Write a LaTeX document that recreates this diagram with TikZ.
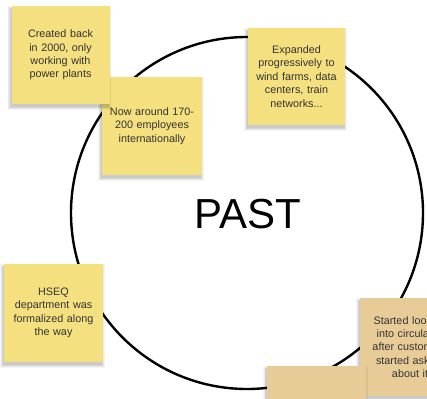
\documentclass[tikz,border=0pt]{standalone}
\usepackage{fontspec}
\setmainfont{Liberation Sans}
\definecolor{stickyyellow}{HTML}{F4E07F}
\definecolor{stickytan}{HTML}{E8CC97}
\definecolor{inkgray}{HTML}{333333}

% soft shadow under a sticky note: centre x, centre y, width, height
\newcommand\softshadow[4]{%
  \foreach \s in {0,1,2,3,4}{%
    \fill[black,opacity=0.045]
      ({#1-#3/2-1-\s*0.7},{#2-#4/2+3-\s*0.7}) rectangle
      ({#1+#3/2-1+\s*0.7},{#2+#4/2+3+\s*0.7});
  }%
}

\begin{document}
\begin{tikzpicture}[x=1pt,y=-1pt,
  sticky/.style={fill=#1, inner sep=0pt, align=center, text=inkgray,
    font=\fontsize{10.8}{13.4}\selectfont, text width=94pt},
  ring/.style={circle, draw=black, line width=2.4pt, inner sep=0pt},
]
\useasboundingbox (0,0) rectangle (427,398);
\clip (0,0) rectangle (427,398);
\fill[white] (0,0) rectangle (427,398);

% the timeline ring and its title
\node[ring, minimum size=352pt] (ring) at (247,213) {};
\node[font=\fontsize{42}{50}\selectfont, text=black] (past) at (248,214) {PAST};

% sticky notes
\softshadow{152}{126}{100}{98}
\node[sticky=stickyyellow, minimum width=100pt, minimum height=98pt] (staff) at (152,126)
  {Now around 170-\\200 employees\\internationally};

\softshadow{60.5}{55}{98}{98}
\node[sticky=stickyyellow, minimum width=98pt, minimum height=98pt] (founded) at (60.5,55)
  {Created back\\in 2000, only\\working with\\power plants};

\softshadow{296.5}{76.5}{97}{97}
\node[sticky=stickyyellow, minimum width=97pt, minimum height=97pt] (expanded) at (296.5,76.5)
  {Expanded\\progressively to\\wind farms, data\\centers, train\\networks...};

\softshadow{53.5}{313}{99}{98}
\node[sticky=stickyyellow, minimum width=99pt, minimum height=98pt] (hseq) at (53.5,313)
  {HSEQ\\department was\\formalized along\\the way};

\softshadow{410}{347}{100}{98}
\node[sticky=stickytan, minimum width=100pt, minimum height=98pt] (circular) at (410,347)
  {Started looking\\into circularity\\after customers\\started asking\\about it};

\softshadow{316.5}{415}{99}{98}
\node[sticky=stickytan, minimum width=99pt, minimum height=98pt] (next) at (316.5,415) {};
\end{tikzpicture}
\end{document}
